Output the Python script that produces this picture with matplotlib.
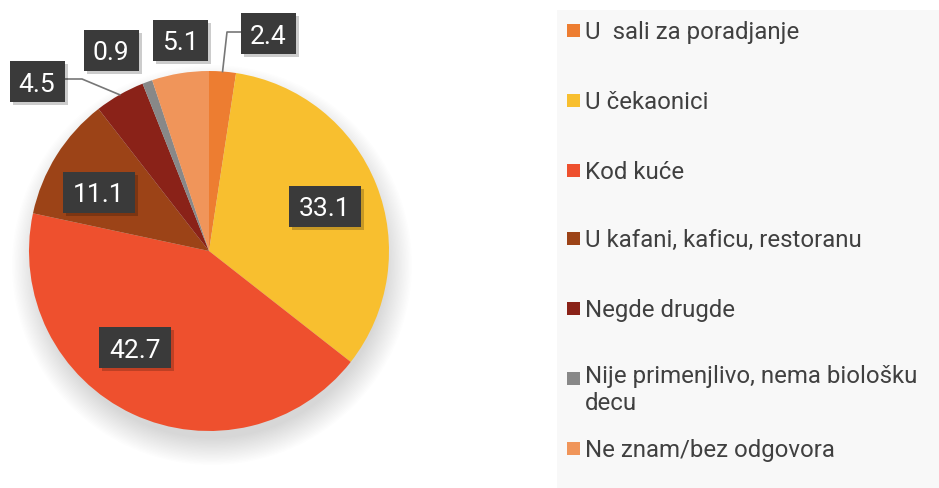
import numpy as np
import matplotlib.pyplot as plt
from matplotlib.patches import Circle, Rectangle

plt.rcParams['font.family'] = ['Roboto', 'DejaVu Sans']

categories = ["U  sali za poradjanje", "U čekaonici", "Kod kuće",
              "U kafani, kaficu, restoranu", "Negde drugde",
              "Nije primenjlivo, nema biološku\ndecu", "Ne znam/bez odgovora"]
values = [2.4, 33.1, 42.7, 11.1, 4.5, 0.9, 5.1]
value_labels = ["2.4", "33.1", "42.7", "11.1", "4.5", "0.9", "5.1"]
colors = ["#ED7D31", "#F8BF2F", "#EE502E", "#9C4317", "#8A2218", "#888888", "#F0955A"]

W, H = 939, 488
fig = plt.figure(figsize=(W / 100, H / 100), dpi=100)
ax = fig.add_axes([0, 0, 1, 1])

# pie geometry in pixel coordinates (y measured from bottom)
cx, cy, R = 209, H - 251, 180

# soft shadow under the pie
for k in range(20):
    ax.add_patch(Circle((cx + 3, cy - 14), R + 20 - k * 1.4, fc="black",
                        ec="none", alpha=0.008, zorder=0))

wedges, _ = ax.pie(values, colors=colors, startangle=90, counterclock=False,
                   center=(cx, cy), radius=R, frame=True,
                   wedgeprops=dict(linewidth=0))

# label box positions (pixel coords, center of box)
label_pos = [(268, 34), (325, 207), (135, 348), (99, 193), (37, 82),
             (111, 51), (180, 41)]
leaders = {0: [(227, 32), (241, 32)], 4: [(82, 79), (64, 79)]}

for i, (lab, (px, py)) in enumerate(zip(value_labels, label_pos)):
    w = 55 if len(lab) == 3 else 72
    ax.add_patch(Rectangle((px - w / 2 + 3, H - py - 20 - 3), w, 41,
                           fc="black", ec="none", alpha=0.2, zorder=4))
    ax.add_patch(Rectangle((px - w / 2, H - py - 20), w, 41,
                           fc="#3a3a3a", ec="none", zorder=5))
    ax.text(px, H - py, lab, color="white", fontsize=19, ha="center",
            va="center_baseline", zorder=6)
    if i in leaders:
        wd = wedges[i]
        mid = np.deg2rad((wd.theta1 + wd.theta2) / 2)
        xs = [cx + R * np.cos(mid)] + [p[0] for p in leaders[i]]
        ys = [cy + R * np.sin(mid)] + [H - p[1] for p in leaders[i]]
        ax.plot(xs, ys, color="#777777", lw=1.2, zorder=3)

# legend panel
ax.add_patch(Rectangle((557, 0), W - 557, H - 10, fc="#f8f8f8", ec="none", zorder=0))
row_y = [30, 100, 170, 238, 308, 378, 448]
for name, c, ry in zip(categories, colors, row_y):
    ax.add_patch(Rectangle((567, H - ry - 7), 13, 13, fc=c, ec="none", zorder=2))
    multi = "\n" in name
    ax.text(585, H - ry + (13 if multi else 0), name, color="#404040",
            fontsize=17.3, ha="left",
            va="top" if multi else "center_baseline",
            linespacing=1.25, zorder=3)

ax.set_xlim(0, W)
ax.set_ylim(0, H)
ax.set_aspect("equal")
ax.axis("off")

fig.savefig("out.png", dpi=100, facecolor="white")
